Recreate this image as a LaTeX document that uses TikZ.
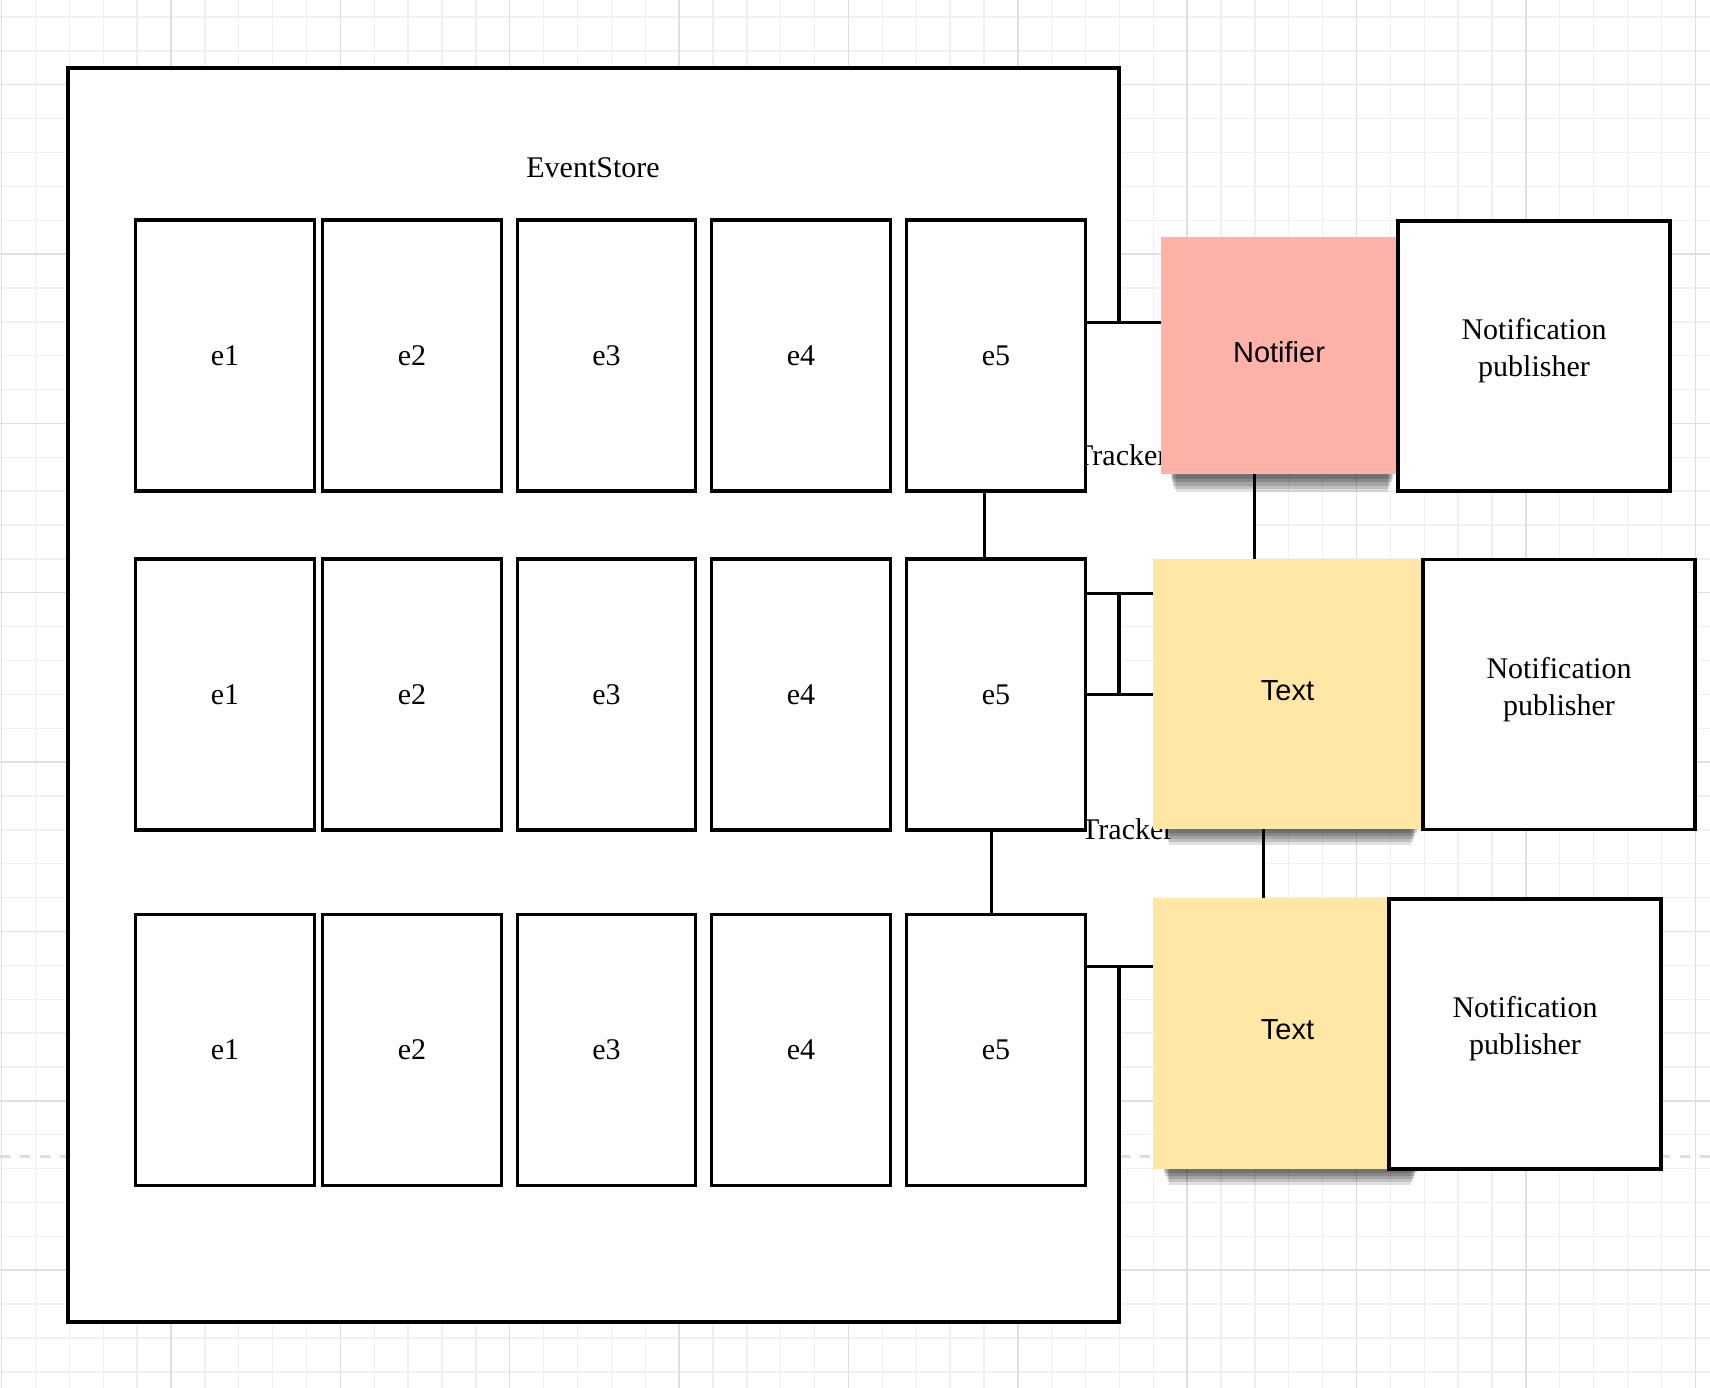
\documentclass[tikz,border=0pt]{standalone}
\usepackage{fontspec}
\setmainfont{Liberation Serif}
\newfontfamily\notefont{Liberation Sans}
\usetikzlibrary{shadows}
\definecolor{gridminor}{HTML}{F0F0F0}
\definecolor{gridmajor}{HTML}{DFDFDF}
\definecolor{pagebreak}{HTML}{DDDDDD}
\definecolor{notifierred}{HTML}{FFB3A8}
\definecolor{noteyellow}{HTML}{FFE8A5}
\tikzset{
  ebox/.style={draw, line width=3.2pt, fill=white, minimum width=178.5pt, minimum height=271pt, inner sep=0pt, font=\fontsize{30}{37}\selectfont},
  pubbox/.style={draw, line width=3.2pt, fill=white, minimum width=272pt, minimum height=270pt, inner sep=0pt, align=center, text depth=17pt, font=\fontsize{30}{37}\selectfont},
  stickynote/.style={fill=#1, inner sep=0pt, text depth=7pt, font=\notefont\fontsize{29}{35}\selectfont,
    drop shadow={shadow scale=0.90, shadow xshift=3pt, shadow yshift=-33pt, opacity=0.12, fill=black},
    drop shadow={shadow scale=0.91, shadow xshift=3pt, shadow yshift=-28pt, opacity=0.14, fill=black},
    drop shadow={shadow scale=0.92, shadow xshift=3pt, shadow yshift=-23pt, opacity=0.15, fill=black},
    drop shadow={shadow scale=0.93, shadow xshift=3pt, shadow yshift=-18pt, opacity=0.16, fill=black},
    drop shadow={shadow scale=0.94, shadow xshift=3pt, shadow yshift=-13pt, opacity=0.16, fill=black}},
  tracklabel/.style={anchor=west, inner sep=0pt, font=\fontsize{30}{37}\selectfont},
  link/.style={line width=3pt},
}
\begin{document}
\begin{tikzpicture}[x=1pt, y=-1pt]
  \useasboundingbox (0,0) rectangle (1710,1388);
  % 1. 背景网格与分页虚线
  \fill[white] (0,0) rectangle (1710,1388);
  \foreach \i in {0,...,50} \draw[gridminor, line width=1.4pt] ({1.7+33.87*\i},0) -- ({1.7+33.87*\i},1388);
  \foreach \j in {0,...,40} \draw[gridminor, line width=1.4pt] (0,{17+33.87*\j}) -- (1710,{17+33.87*\j});
  \foreach \i in {0,...,10} \draw[gridmajor, line width=1.4pt] ({1.7+169.35*\i},0) -- ({1.7+169.35*\i},1388);
  \foreach \j in {0,...,7} \draw[gridmajor, line width=1.4pt] (0,{84.7+169.35*\j}) -- (1710,{84.7+169.35*\j});
  \draw[pagebreak, line width=3pt, dash pattern=on 10pt off 10pt] (0,1156) -- (1710,1156);

  % 2. EventStore 外框
  \node[draw, line width=3.2pt, fill=white, minimum width=1051pt, minimum height=1254pt, inner sep=0pt] (store) at (593.5,695) {};
  \node[font=\fontsize{30}{37}\selectfont] (storelabel) at (593,168) {EventStore};

  % 3. Tracker 区域
  \fill[white] (1086,322) rectangle (1254,593);
  \fill[white] (1086,694) rectangle (1263,966);
  \node[tracklabel] (trk1) at (1075,455) {Tracker};
  \node[tracklabel] (trk2) at (1081,829) {Tracker};

  % 4. 事件 e1--e5
  \foreach \r/\ry in {1/355.5, 2/694.5, 3/1050}
    \foreach \c/\cx in {1/225, 2/412, 3/606.5, 4/801, 5/996}
      \node[ebox] (e\r\c) at (\cx,\ry) {e\c};

  % 5. 便签与发布者
  \node[stickynote=notifierred, minimum width=236pt, minimum height=237pt] (notifier) at (1279,355.5) {Notifier};
  \node[stickynote=noteyellow, minimum width=269pt, minimum height=270pt] (note2) at (1287.5,694) {Text};
  \node[stickynote=noteyellow, minimum width=269pt, minimum height=271pt] (note3) at (1287.5,1033.5) {Text};
  \node[pubbox] (pub1) at (1534,356) {Notification\\publisher};
  \node[pubbox] (pub2) at (1559,694.5) {Notification\\publisher};
  \node[pubbox] (pub3) at (1525,1034) {Notification\\publisher};

  % 6. 连接线
  \coordinate (j1) at ([yshift=33.5pt]e15.east);
  \draw[link] (j1) -- (j1 -| notifier.west);
  \draw[link] ([xshift=-12pt]e15.south) -- ([xshift=-12pt]e25.north);
  \coordinate (j2) at ([xshift=-25pt]notifier.south);
  \draw[link] (j2) -- (j2 |- note2.north);
  \coordinate (j3) at ([yshift=101.5pt]e25.east);
  \draw[link] (j3) -- (j3 -| note2.west);
  \draw[link] (e25.east) -- (e25.east -| note2.west);
  \draw[link] ([xshift=-5pt]e25.south) -- ([xshift=-5pt]e35.north);
  \coordinate (j4) at ([xshift=-24.5pt]note2.south);
  \draw[link] (j4) -- (j4 |- note3.north);
  \coordinate (j5) at ([yshift=84pt]e35.east);
  \draw[link] (j5) -- (j5 -| note3.west);
\end{tikzpicture}
\end{document}
